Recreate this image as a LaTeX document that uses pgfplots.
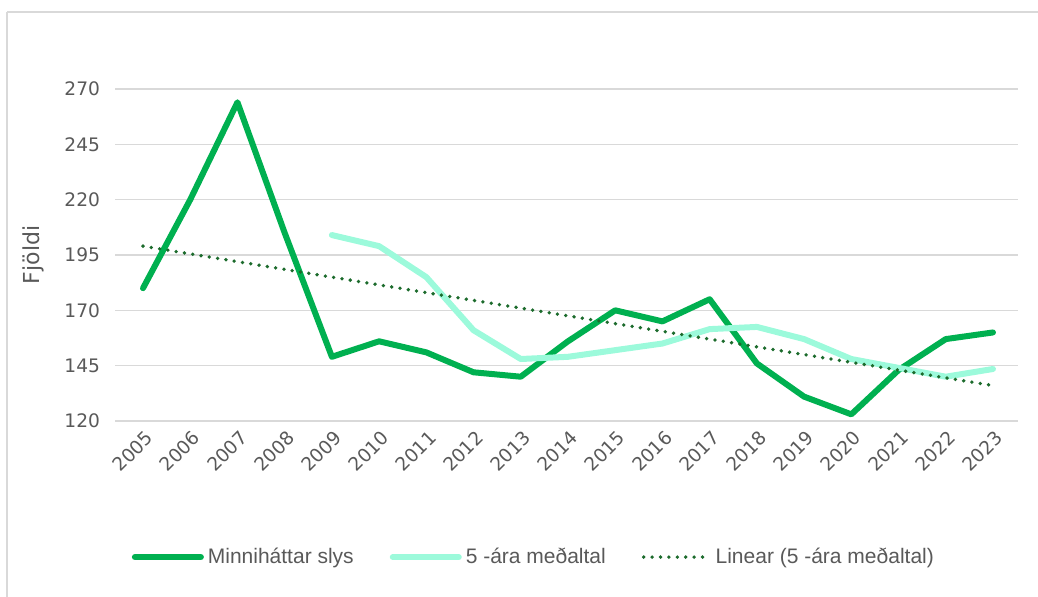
\documentclass[border=0pt]{standalone}
\usepackage{fontspec}
\setmainfont{Liberation Sans}
\newfontfamily\tickfont{DejaVu Sans}
\usepackage{pgfplots}
\pgfplotsset{compat=1.18}

\definecolor{mainG}{HTML}{00B050}
\definecolor{avgG}{HTML}{9CFADB}
\definecolor{trendG}{HTML}{1C6B2C}
\definecolor{gridG}{HTML}{D9D9D9}
\definecolor{txtG}{HTML}{595959}

\begin{document}
\begin{tikzpicture}
\path[use as bounding box] (0,0) rectangle (519pt,298.5pt);
% chart frame (top and left edge visible)
\draw[gridG, line width=0.8pt] (3.5pt,292.5pt) -- (519pt,292.5pt);
\draw[gridG, line width=0.8pt] (3.5pt,0pt) -- (3.5pt,292.5pt);

\begin{axis}[
    at={(57.5pt,88pt)},
    anchor=south west,
    scale only axis,
    width=451.5pt,
    height=166pt,
    xmin=2004.407, xmax=2023.53,
    ymin=120, ymax=270,
    xtick={2005,...,2023},
    ytick={120,145,170,195,220,245,270},
    axis line style={draw=none},
    tick style={draw=none},
    ymajorgrids,
    major grid style={gridG, line width=0.8pt},
    /pgf/number format/assume math mode=true,
    /pgf/number format/1000 sep={},
    ticklabel style={font=\tickfont\fontsize{9.3}{10}\selectfont, text=txtG},
    xticklabel style={rotate=45, anchor=east, yshift=-7pt, xshift=1pt},
    yticklabel style={xshift=-4pt},
    ylabel={Fjöldi},
    ylabel style={at={(axis description cs:-0.09,0.5)}, anchor=center,
        font=\tickfont\fontsize{11}{13}\selectfont, text=txtG},
    legend style={at={(axis description cs:0.465,-0.41)}, anchor=center,
        draw=none, fill=none, font=\fontsize{10.5}{12}\selectfont, text=txtG,
        legend columns=3,
        /tikz/every even column/.append style={column sep=16pt}},
    legend image code/.code={\draw[#1] (0pt,0pt) -- (33pt,0pt);},
    clip=false
]

% Minnihattar slys
\addplot[mainG, line width=3pt, line join=round, line cap=round] coordinates {
    (2005,180) (2006,220) (2007,264) (2008,205) (2009,149)
    (2010,156) (2011,151) (2012,142) (2013,140) (2014,156)
    (2015,170) (2016,165) (2017,175) (2018,146) (2019,131)
    (2020,123) (2021,143) (2022,157) (2023,160)
};
\addlegendentry{Minniháttar slys}

% 5 -ara medaltal
\addplot[avgG, line width=3pt, line join=round, line cap=round] coordinates {
    (2009,204) (2010,199) (2011,185) (2012,161) (2013,148)
    (2014,149) (2015,152) (2016,155) (2017,161.5) (2018,162.5)
    (2019,157) (2020,148) (2021,144) (2022,140) (2023,143.5)
};
\addlegendentry{5 -ára meðaltal}

% Linear trend
\addplot[trendG, line width=1.9pt, line cap=round, dash pattern=on 0pt off 4.2pt] coordinates {
    (2005,199) (2023,136)
};
\addlegendentry{Linear (5 -ára meðaltal)}

\end{axis}
\end{tikzpicture}
\end{document}
